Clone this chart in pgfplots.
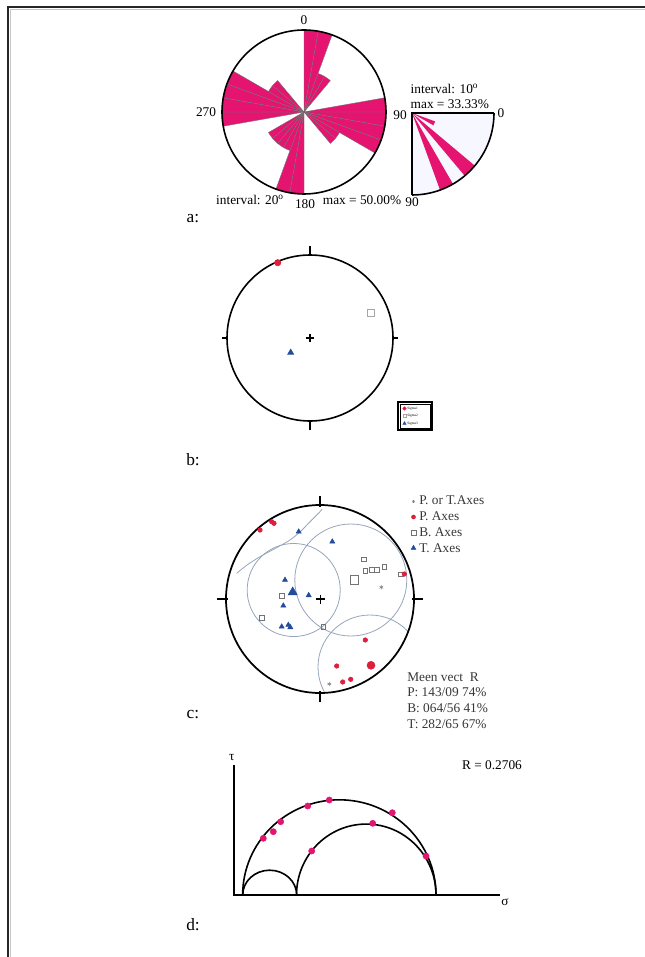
\documentclass[border=0pt]{standalone}
\usepackage{pgfplots}
\pgfplotsset{compat=1.18}
\usepgfplotslibrary{polar}
\usepackage{fontspec}
\setmainfont{Liberation Serif}
\definecolor{rose}{RGB}{228,20,112}
\definecolor{pred}{RGB}{222,30,60}
\definecolor{tblue}{RGB}{35,75,155}
\definecolor{gc}{RGB}{150,165,185}
\definecolor{txt}{RGB}{55,55,55}
\pgfplotsset{petal/.style={fill=rose,draw=black!55,line width=0.3pt,mark=none},
  qpetal/.style={fill=rose,draw=none,mark=none}}
\begin{document}
\begin{tikzpicture}
\useasboundingbox (0,0) rectangle (483.75pt,717.75pt);
% ---------------- main pixel axis ----------------
\begin{axis}[at={(0pt,0pt)},anchor=south west,scale only axis,
  width=483.75pt,height=717.75pt,xmin=0,xmax=645,ymin=0,ymax=957,
  y dir=reverse,hide axis,clip=false]
% frame
\draw[gray!45,line width=0.8pt] (axis cs:10.5,957) -- (axis cs:10.5,9.5) -- (axis cs:645,9.5);
\draw[black!85,line width=1.4pt] (axis cs:8,957) -- (axis cs:8,7) -- (axis cs:645,7);
% panel labels
\node[font=\fontsize{13}{15}\selectfont] at (axis cs:193,219) {a:};
\node[font=\fontsize{13}{15}\selectfont] at (axis cs:193,460) {b:};
\node[font=\fontsize{13}{15}\selectfont] at (axis cs:193,715) {c:};
\node[font=\fontsize{13}{15}\selectfont] at (axis cs:193,925) {d:};
% rose labels
\node at (axis cs:304,20) {0};
\node at (axis cs:206,112) {270};
\node at (axis cs:400,115) {90};
\node at (axis cs:305,204) {180};
\node at (axis cs:250,200) {interval: 20\textsuperscript{o}};
\node at (axis cs:362,200) {max = 50.00\%};
\node[anchor=west] at (axis cs:406,89) {interval: 10\textsuperscript{o}};
\node[anchor=west] at (axis cs:406,104) {max = 33.33\%};
\node at (axis cs:501,113) {0};
\node at (axis cs:412,202) {90};
% ---------------- panel b ----------------
\draw[line width=1.2pt] (axis cs:310,338) circle[radius=62.25pt];
\draw[line width=1.1pt] (axis cs:310,246) -- (axis cs:310,256);
\draw[line width=1.1pt] (axis cs:310,420) -- (axis cs:310,430);
\draw[line width=1.1pt] (axis cs:222,338) -- (axis cs:228,338);
\draw[line width=1.1pt] (axis cs:392,338) -- (axis cs:398,338);
\draw[line width=0.8pt] (axis cs:306,338) -- (axis cs:314,338);
\draw[line width=0.8pt] (axis cs:310,334) -- (axis cs:310,342);
\addplot[only marks,mark=*,mark size=2.4pt,color=pred] coordinates {(277.7,262.7)};
\addplot[only marks,mark=square,mark size=2.6pt,color=black!35,thick] coordinates {(370.7,312.7)};
\addplot[only marks,mark=triangle*,mark size=2.6pt,color=tblue] coordinates {(290.7,352.5)};
% legend b
\draw[line width=1pt] (axis cs:398,402) rectangle (axis cs:432,430);
\draw[line width=0.4pt] (axis cs:400,404) rectangle (axis cs:430,428);
\addplot[only marks,mark=*,mark size=1.3pt,color=pred] coordinates {(404.5,408.5)};
\addplot[only marks,mark=square,mark size=1.3pt,color=black!35] coordinates {(404.5,416)};
\addplot[only marks,mark=triangle*,mark size=1.4pt,color=tblue] coordinates {(404.5,423.5)};
\node[anchor=west,font=\fontsize{2.6}{3}\selectfont,inner sep=0pt] at (axis cs:407,408.5) {Sigma1};
\node[anchor=west,font=\fontsize{2.6}{3}\selectfont,inner sep=0pt] at (axis cs:407,416) {Sigma2};
\node[anchor=west,font=\fontsize{2.6}{3}\selectfont,inner sep=0pt] at (axis cs:407,423.5) {Sigma3};
% ---------------- panel c ----------------
\begin{scope}
\clip (axis cs:320,599) circle[radius=70.5pt];
\draw[gc,line width=0.6pt] (axis cs:293.7,590) circle[radius=34.9pt];
\draw[gc,line width=0.6pt] (axis cs:350.8,580) circle[radius=42pt];
\draw[gc,line width=0.6pt] (axis cs:370,667) circle[radius=39pt];
\end{scope}
\addplot[gc,line width=0.6pt,smooth,mark=none] coordinates {(236.7,573.3) (247,565) (260,556.7) (276,548) (290,540) (301,531) (310,521.7) (320,511.7) (322,509)};
\draw[line width=1.3pt] (axis cs:320,599) circle[radius=70.5pt];
\draw[line width=1.1pt] (axis cs:320,496) -- (axis cs:320,507);
\draw[line width=1.1pt] (axis cs:320,691) -- (axis cs:320,702);
\draw[line width=1.1pt] (axis cs:217,599) -- (axis cs:228,599);
\draw[line width=1.1pt] (axis cs:412,599) -- (axis cs:423,599);
\draw[line width=1pt] (axis cs:316,599) -- (axis cs:325,599);
\draw[line width=1pt] (axis cs:320.5,594.5) -- (axis cs:320.5,603.5);
% B axes
\addplot[only marks,mark=square,mark size=1.8pt,color=black!55,line width=0.4pt] coordinates {
(364,559.3) (365.3,570.7) (371.7,570) (376.7,570) (384.3,566.7) (400.7,574.3)
(281.7,596) (262,617.7) (323.3,626.7)};
\addplot[only marks,mark=square,mark size=3.3pt,color=black!55,line width=0.5pt] coordinates {(354.3,580)};
% P axes
\addplot[only marks,mark=*,mark size=1.7pt,color=pred] coordinates {
(260,530) (271.7,521.7) (274,523.3) (404.3,574) (365.3,640) (336.7,666) (342.7,682) (350.7,679.3)};
\addplot[only marks,mark=*,mark size=3pt,color=pred] coordinates {(371,665.3)};
% T axes
\addplot[only marks,mark=triangle*,mark size=2.2pt,color=tblue] coordinates {
(298.7,531.7) (332.3,541.7) (285,580) (308.7,595.3) (283.3,605.7) (281.7,626.7) (288.3,625) (290.3,627.3)};
\addplot[only marks,mark=triangle*,mark size=4pt,color=tblue] coordinates {(292.7,592.3)};
% P or T
\addplot[only marks,mark=asterisk,mark size=1.6pt,color=black!50] coordinates {(381.3,587.3) (329.3,684)};
% legend c
\addplot[only marks,mark=asterisk,mark size=1.1pt,color=black!50] coordinates {(413.5,501.5)};
\addplot[only marks,mark=*,mark size=1.5pt,color=pred] coordinates {(413.5,517)};
\addplot[only marks,mark=square,mark size=1.7pt,color=black!55,line width=0.4pt] coordinates {(413.5,532.5)};
\addplot[only marks,mark=triangle*,mark size=2pt,color=tblue] coordinates {(413.5,548)};
\begin{scope}[every node/.style={anchor=west,text=txt,inner sep=0pt}]
\node at (axis cs:419,500) {P. or T.Axes};
\node at (axis cs:419,516) {P. Axes};
\node at (axis cs:419,532) {B. Axes};
\node at (axis cs:419,548) {T. Axes};
\node at (axis cs:407,677) {Meen vect\ \ R};
\node at (axis cs:407,692.5) {P: 143/09 74\%};
\node at (axis cs:407,708.5) {B: 064/56 41\%};
\node at (axis cs:407,724) {T: 282/65 67\%};
\end{scope}
% ---------------- panel d ----------------
\draw[line width=1.1pt] (axis cs:234,765) -- (axis cs:234,895) -- (axis cs:500,895);
\draw[line width=1.2pt] (axis cs:436,895) arc[start angle=0,end angle=180,x radius=72.5pt,y radius=71.4pt];
\draw[line width=1.2pt] (axis cs:436,895) arc[start angle=0,end angle=180,x radius=52.3pt,y radius=53.2pt];
\draw[line width=1.2pt] (axis cs:296.7,895) arc[start angle=0,end angle=180,x radius=20.25pt,y radius=18.6pt];
\addplot[only marks,mark=*,mark size=2.3pt,color=rose] coordinates {
(263.3,838.3) (273.3,831.7) (280.7,821.7) (307.7,806) (329.3,800) (392.3,812.7) (372.7,823.3) (311.7,851) (426,856)};
\node at (axis cs:231.7,757) {τ};
\node at (axis cs:505,902) {σ};
\node at (axis cs:492,765) {R = 0.2706};
\end{axis}
% ---------------- big rose ----------------
\begin{polaraxis}[at={(228pt,633.75pt)},anchor=origin,scale only axis,width=123pt,height=123pt,
  ymin=0,ymax=50,hide axis,clip=false]
\addplot[petal] coordinates {(0,0) (80,50) (85,50) (90,50) (0,0)};
\addplot[petal] coordinates {(0,0) (70,50) (75,50) (80,50) (0,0)};
\addplot[petal] coordinates {(0,0) (60,25) (65,25) (70,25) (0,0)};
\addplot[petal] coordinates {(0,0) (50,25) (55,25) (60,25) (0,0)};
\addplot[petal] coordinates {(0,0) (0,50) (5,50) (10,50) (0,0)};
\addplot[petal] coordinates {(0,0) (-10,50) (-5,50) (0,50) (0,0)};
\addplot[petal] coordinates {(0,0) (-20,50) (-15,50) (-10,50) (0,0)};
\addplot[petal] coordinates {(0,0) (-30,50) (-25,50) (-20,50) (0,0)};
\addplot[petal] coordinates {(0,0) (-40,25) (-35,25) (-30,25) (0,0)};
\addplot[petal] coordinates {(0,0) (-50,25) (-45,25) (-40,25) (0,0)};
\addplot[petal] coordinates {(0,0) (-100,50) (-95,50) (-90,50) (0,0)};
\addplot[petal] coordinates {(0,0) (-110,50) (-105,50) (-100,50) (0,0)};
\addplot[petal] coordinates {(0,0) (-120,25) (-115,25) (-110,25) (0,0)};
\addplot[petal] coordinates {(0,0) (-130,25) (-125,25) (-120,25) (0,0)};
\addplot[petal] coordinates {(0,0) (-140,25) (-135,25) (-130,25) (0,0)};
\addplot[petal] coordinates {(0,0) (-150,25) (-145,25) (-140,25) (0,0)};
\addplot[petal] coordinates {(0,0) (180,50) (185,50) (190,50) (0,0)};
\addplot[petal] coordinates {(0,0) (170,50) (175,50) (180,50) (0,0)};
\addplot[petal] coordinates {(0,0) (160,50) (165,50) (170,50) (0,0)};
\addplot[petal] coordinates {(0,0) (150,50) (155,50) (160,50) (0,0)};
\addplot[petal] coordinates {(0,0) (140,25) (145,25) (150,25) (0,0)};
\addplot[petal] coordinates {(0,0) (130,25) (135,25) (140,25) (0,0)};
\draw[line width=1.2pt,fill=none] (axis cs:0,0) circle[radius=61.5pt];
\end{polaraxis}
% ---------------- quarter rose ----------------
\begin{polaraxis}[at={(309pt,633pt)},anchor=origin,scale only axis,width=123pt,height=123pt,
  ymin=0,ymax=33.33,hide axis,clip=false]
\fill[blue!3] (axis cs:0,0) -- (axis cs:0,33.33) arc[start angle=0,end angle=-90,radius=61.5pt] -- cycle;
\addplot[qpetal] coordinates {(0,0) (-30,10) (-25,10) (-20,10) (0,0)};
\addplot[qpetal] coordinates {(0,0) (-50,33.33) (-45,33.33) (-40,33.33) (0,0)};
\addplot[qpetal] coordinates {(0,0) (-70,33.33) (-65,33.33) (-60,33.33) (0,0)};
\draw[line width=1.2pt] (axis cs:0,33.33) -- (axis cs:0,0) -- (axis cs:-90,33.33);
\draw[line width=1.2pt] (axis cs:0,33.33) arc[start angle=0,end angle=-90,radius=61.5pt];
\end{polaraxis}
\end{tikzpicture}
\end{document}
